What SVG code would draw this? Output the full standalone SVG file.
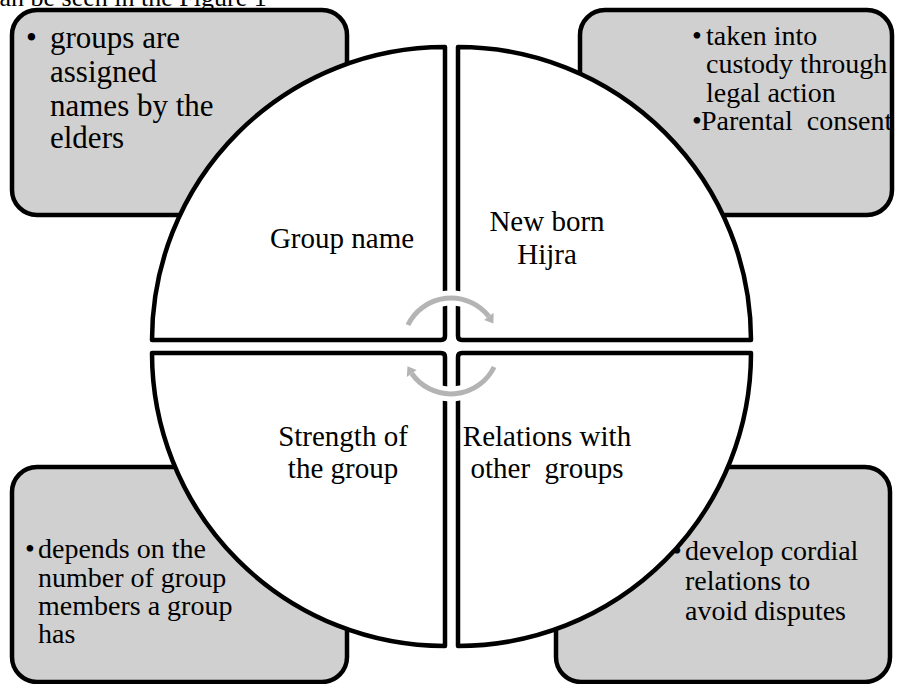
<svg xmlns="http://www.w3.org/2000/svg" width="904" height="684" viewBox="0 0 904 684" font-family="'Liberation Serif', 'DejaVu Serif', serif">
<style>
  .box { fill: #d0d0d0; stroke: #000; stroke-width: 4.5; }
  .quad { fill: #fff; stroke: #000; stroke-width: 4.5; stroke-linejoin: round; }
  .t { font-family: 'Liberation Serif', 'DejaVu Serif', serif; fill: #000; }
  .lbl { font-size: 29px; text-anchor: middle; }
  .bul { font-size: 28px; }
  .bul31 { font-size: 31px; }
  .halo { fill: none; stroke: #fff; stroke-width: 15; }
  .arc { fill: none; stroke: #b4b4b4; stroke-width: 5; }
  .head { fill: #b4b4b4; }
</style>
<rect width="904" height="684" fill="#fff"/>
<text class="t" x="-12" y="6" style="font-size:26px">can be seen in the Figure 1</text>

<g id="box-group-name">
  <rect class="box" x="12" y="10" width="335" height="205" rx="25"/>
  <text class="t bul31" x="26" y="48">•</text>
  <text class="t bul31" x="50" y="48">groups are</text>
  <text class="t bul31" x="50" y="82">assigned</text>
  <text class="t bul31" x="50" y="116">names by the</text>
  <text class="t bul31" x="50" y="148">elders</text>
</g>
<g id="box-new-born">
  <rect class="box" x="580" y="10" width="312" height="205" rx="25"/>
  <text class="t bul" x="692" y="45">•</text>
  <text class="t bul" x="706" y="45">taken into</text>
  <text class="t bul" x="706" y="73">custody through</text>
  <text class="t bul" x="706" y="102">legal action</text>
  <text class="t bul" x="692" y="130">•</text>
  <text class="t bul" x="701" y="130" xml:space="preserve">Parental  consent</text>
</g>
<g id="box-strength">
  <rect class="box" x="12" y="467" width="335" height="215" rx="25"/>
  <text class="t bul" x="25" y="558">•</text>
  <text class="t bul" x="38" y="558">depends on the</text>
  <text class="t bul" x="38" y="587">number of group</text>
  <text class="t bul" x="38" y="615">members a group</text>
  <text class="t bul" x="38" y="643">has</text>
</g>
<g id="box-relations">
  <rect class="box" x="556" y="467" width="334" height="215" rx="25"/>
  <text class="t bul" x="672" y="560">•</text>
  <text class="t bul" x="685" y="560">develop cordial</text>
  <text class="t bul" x="685" y="590">relations to</text>
  <text class="t bul" x="685" y="620">avoid disputes</text>
</g>

<g id="quad-group-name">
  <path class="quad" d="M152,340 L441,340 Q445,340 445,336 L445,47 A293,293 0 0 0 152,340 Z"/>
  <text class="t lbl" x="342" y="248">Group name</text>
</g>
<g id="quad-new-born">
  <path class="quad" d="M458,336 L458,47 A293,293 0 0 1 751,340 L462,340 Q458,340 458,336 Z"/>
  <text class="t lbl" x="547" y="231">New born</text>
  <text class="t lbl" x="547" y="264">Hijra</text>
</g>
<g id="quad-strength">
  <path class="quad" d="M445,357 L445,646 A293,293 0 0 1 152,353 L441,353 Q445,353 445,357 Z"/>
  <text class="t lbl" x="343" y="446">Strength of</text>
  <text class="t lbl" x="343" y="478">the group</text>
</g>
<g id="quad-relations">
  <path class="quad" d="M462,353 L751,353 A293,293 0 0 1 458,646 L458,357 Q458,353 462,353 Z"/>
  <text class="t lbl" x="547" y="446">Relations with</text>
  <text class="t lbl" x="547" y="478" xml:space="preserve">other  groups</text>
</g>

<g id="connectors">
  <path class="halo" d="M407.9,325 A48,48 0 0 1 488.8,316.4"/>
  <path class="halo" d="M494.1,367 A48,48 0 0 1 411.7,373.5"/>
  <path class="arc" d="M407.9,325 A48,48 0 0 1 488.8,316.4"/>
  <polygon class="head" points="484.1,320.1 493.6,312.8 493.4,323.5"/>
  <path class="arc" d="M494.1,367 A48,48 0 0 1 411.7,373.5"/>
  <polygon class="head" points="416.6,370.1 406.8,377 407.5,366.3"/>
</g>
</svg>
